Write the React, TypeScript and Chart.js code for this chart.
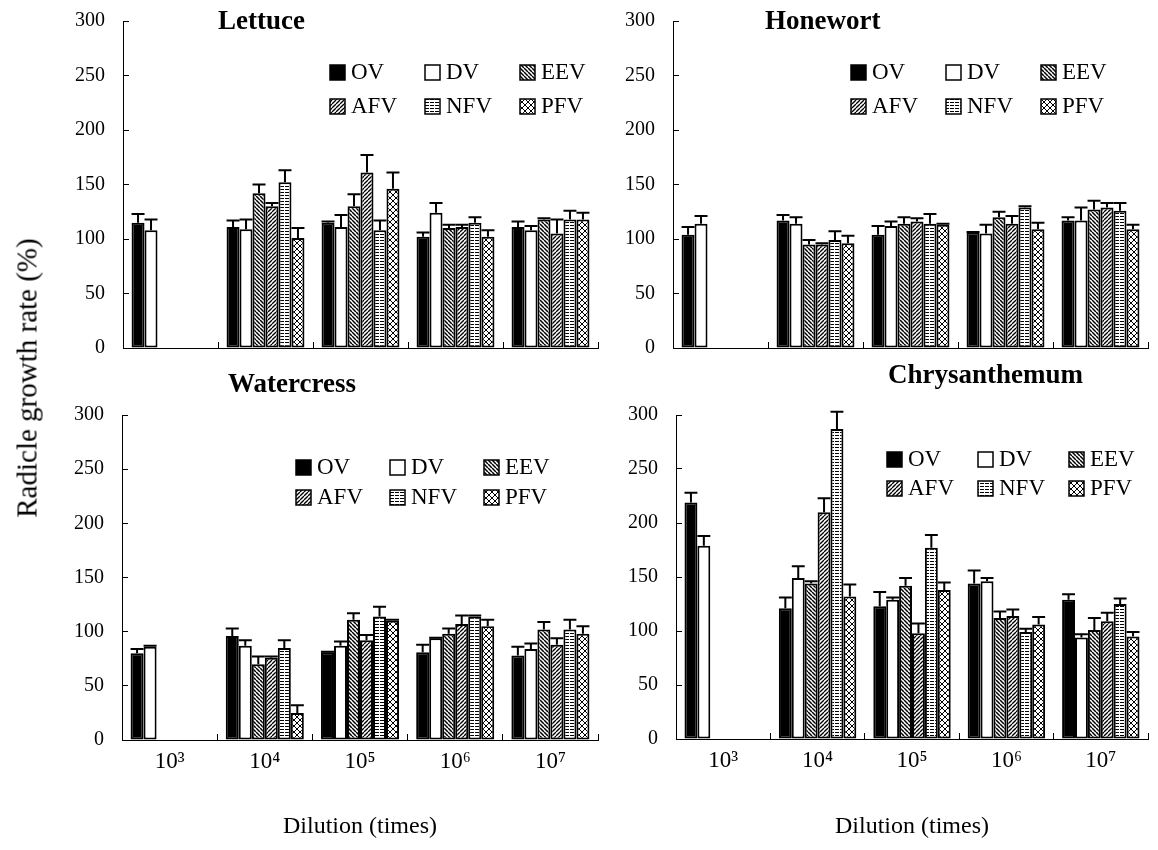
import React, { useEffect, useRef } from "react";
import { Chart, registerables } from "chart.js";
Chart.register(...registerables);

const SERIF = '"Liberation Serif", "Times New Roman", Times, serif';

const categories = ["10³", "10⁴", "10⁵", "10⁶", "10⁷"];
const seriesNames = ["OV", "DV", "EEV", "AFV", "NFV", "PFV"];

// Lettuce
const lettuceOV = [115, 111, 115, 102, 111];
const lettuceDV = [108, 109, 111, 124, 108];
const lettuceEEV = [null, 142, 130, 110, 118];
const lettuceAFV = [null, 130, 161, 111, 105];
const lettuceNFV = [null, 152, 108, 115, 118];
const lettucePFV = [null, 101, 146, 102, 118];
const lettuceOVErr = [8, 6, 1, 4, 5];
const lettuceDVErr = [10, 9, 11, 9, 4];
const lettuceEEVErr = [0, 8, 11, 3, 1];
const lettuceAFVErr = [0, 3, 16, 2, 13];
const lettuceNFVErr = [0, 11, 9, 5, 8];
const lettucePFVErr = [0, 9, 15, 6, 6];

// Honewort
const honewortOV = [104, 117, 104, 106, 117];
const honewortDV = [114, 114, 112, 105, 117];
const honewortEEV = [null, 95, 114, 120, 127];
const honewortAFV = [null, 95, 116, 114, 129];
const honewortNFV = [null, 99, 114, 129, 126];
const honewortPFV = [null, 96, 113, 109, 109];
const honewortOVErr = [7, 5, 8, 0.5, 3];
const honewortDVErr = [7, 6, 4, 8, 12];
const honewortEEVErr = [0, 4, 6, 5, 8];
const honewortAFVErr = [0, 1, 3, 7, 4];
const honewortNFVErr = [0, 8, 9, 1, 7];
const honewortPFVErr = [0, 7, 1, 6, 4];

// Watercress
const watercressOV = [80, 96, 81, 81, 78];
const watercressDV = [86, 87, 87, 94, 84];
const watercressEEV = [null, 70, 111, 98, 102];
const watercressAFV = [null, 76, 92, 107, 88];
const watercressNFV = [null, 85, 114, 114, 102];
const watercressPFV = [null, 25, 110, 105, 98];
const watercressOVErr = [4, 7, 0.5, 7, 8];
const watercressDVErr = [1, 5, 4, 0.5, 5];
const watercressEEVErr = [0, 7, 6, 5, 7];
const watercressAFVErr = [0, 1, 5, 8, 6];
const watercressNFVErr = [0, 7, 9, 1, 9];
const watercressPFVErr = [0, 7, 1, 6, 7];

// Chrysanthemum
const chrysOV = [219, 121, 123, 144, 129];
const chrysDV = [179, 149, 129, 146, 94];
const chrysEEV = [null, 144, 142, 112, 101];
const chrysAFV = [null, 210, 98, 114, 109];
const chrysNFV = [null, 287, 177, 99, 125];
const chrysPFV = [null, 132, 138, 106, 95];
const chrysOVErr = [9, 10, 13, 12, 5];
const chrysDVErr = [9, 11, 2, 3, 3];
const chrysEEVErr = [0, 2, 7, 6, 11];
const chrysAFVErr = [0, 13, 9, 6, 8];
const chrysNFVErr = [0, 16, 12, 3, 5];
const chrysPFVErr = [0, 11, 7, 7, 4];

const Y_MIN = 0;
const Y_MAX = 300;
const Y_STEP = 50;

function makeFill(kind: string): any {
  if (kind === "OV") return "#000";
  if (kind === "DV") return "#fff";
  const c = document.createElement("canvas");
  const ctx = c.getContext("2d") as CanvasRenderingContext2D;
  if (kind === "EEV") {
    c.width = 4; c.height = 4;
    ctx.fillStyle = "#fff"; ctx.fillRect(0, 0, 4, 4);
    ctx.strokeStyle = "#000"; ctx.lineWidth = 1.5;
    for (const k of [-4, 0, 4]) { ctx.beginPath(); ctx.moveTo(k, 0); ctx.lineTo(k + 4, 4); ctx.stroke(); }
  } else if (kind === "AFV") {
    c.width = 4; c.height = 4;
    ctx.fillStyle = "#fff"; ctx.fillRect(0, 0, 4, 4);
    ctx.strokeStyle = "#000"; ctx.lineWidth = 1.3;
    for (const k of [-4, 0, 4]) { ctx.beginPath(); ctx.moveTo(k, 4); ctx.lineTo(k + 4, 0); ctx.stroke(); }
  } else if (kind === "NFV") {
    c.width = 5; c.height = 3;
    ctx.fillStyle = "#fff"; ctx.fillRect(0, 0, 5, 3);
    ctx.fillStyle = "#000"; ctx.fillRect(0, 0, 4, 1);
  } else {
    c.width = 6; c.height = 6;
    ctx.fillStyle = "#fff"; ctx.fillRect(0, 0, 6, 6);
    ctx.strokeStyle = "#000"; ctx.lineWidth = 1;
    for (const k of [-6, 0, 6]) {
      ctx.beginPath(); ctx.moveTo(k, 0); ctx.lineTo(k + 6, 6); ctx.stroke();
      ctx.beginPath(); ctx.moveTo(k, 6); ctx.lineTo(k + 6, 0); ctx.stroke();
    }
  }
  const ctx2 = document.createElement("canvas").getContext("2d") as CanvasRenderingContext2D;
  return ctx2.createPattern(c, "repeat");
}

const errorBarsPlugin = {
  id: "errorBars",
  afterDatasetsDraw(chart: any) {
    const ctx = chart.ctx;
    const yScale = chart.scales.y;
    chart.data.datasets.forEach((ds: any, i: number) => {
      const meta = chart.getDatasetMeta(i);
      meta.data.forEach((bar: any, j: number) => {
        const v = ds.data[j];
        const e = ds.errors ? ds.errors[j] : 0;
        if (v == null || !e) return;
        const { x, y, width } = bar.getProps(["x", "y", "width"], true);
        const yt = yScale.getPixelForValue(v + e);
        ctx.save();
        ctx.strokeStyle = "#000";
        ctx.lineWidth = 2;
        ctx.beginPath();
        ctx.moveTo(x, y);
        ctx.lineTo(x, yt);
        ctx.moveTo(x - width / 2, yt);
        ctx.lineTo(x + width / 2, yt);
        ctx.stroke();
        ctx.restore();
      });
    });
  },
};

const gridLegendPlugin = {
  id: "gridLegend",
  afterDraw(chart: any, _args: any, opts: any) {
    const ctx = chart.ctx;
    chart.data.datasets.forEach((ds: any, i: number) => {
      const col = i % 3;
      const row = Math.floor(i / 3);
      const x = opts.x + col * opts.dx;
      const y = opts.y + row * opts.dy;
      ctx.save();
      ctx.fillStyle = ds.backgroundColor;
      ctx.fillRect(x, y - 7, 15, 15);
      ctx.strokeStyle = "#000";
      ctx.lineWidth = 1.5;
      ctx.strokeRect(x, y - 7, 15, 15);
      ctx.fillStyle = "#000";
      ctx.font = `23px ${SERIF}`;
      ctx.textBaseline = "middle";
      ctx.textAlign = "left";
      ctx.fillText(ds.label, x + 21, y + 1);
      ctx.restore();
    });
  },
};

type PanelProps = {
  left: number; top: number; width: number; height: number;
  padTop: number; padRight: number; yWidth: number; xHeight: number;
  showX: boolean; series: (number | null)[][]; errors: number[][];
  legend: { x: number; y: number; dx: number; dy: number };
};

function Panel(p: PanelProps) {
  const ref = useRef<HTMLCanvasElement | null>(null);
  useEffect(() => {
    const canvas = ref.current;
    if (!canvas) return;
    const datasets = seriesNames.map((name, i) => ({
      label: name,
      data: p.series[i],
      errors: p.errors[i],
      backgroundColor: makeFill(name),
      borderColor: "#000",
      borderWidth: 2,
      borderSkipped: false,
      categoryPercentage: 0.82,
      barPercentage: 1.0,
    }));
    const chart = new Chart(canvas, {
      type: "bar",
      data: { labels: categories, datasets: datasets as any },
      options: {
        animation: false,
        responsive: false,
        devicePixelRatio: 1,
        layout: { padding: { top: p.padTop, right: p.padRight, left: 0, bottom: 0 } },
        plugins: {
          legend: { display: false },
          tooltip: { enabled: false },
          gridLegend: p.legend,
        } as any,
        scales: {
          x: {
            offset: true,
            grid: { offset: true, drawOnChartArea: false, drawTicks: true, tickLength: -6, color: "#000", lineWidth: 1 },
            border: { display: true, color: "#000", width: 1 },
            ticks: {
              display: p.showX,
              color: "#000",
              font: { family: SERIF, size: 23 },
              padding: 14,
              maxRotation: 0,
              autoSkip: false,
            },
            title: {
              display: p.showX,
              text: "Dilution (times)",
              color: "#000",
              font: { family: SERIF, size: 24 },
              padding: { top: 0, bottom: 9 },
            },
            afterFit: (s: any) => {
              s.height = p.xHeight;
              s.paddingLeft = 0;
              s.paddingRight = 0;
            },
          },
          y: {
            min: Y_MIN,
            max: Y_MAX,
            grid: { drawOnChartArea: false, drawTicks: true, tickLength: -6, color: "#000", lineWidth: 1 },
            border: { display: true, color: "#000", width: 1 },
            ticks: {
              stepSize: Y_STEP,
              color: "#000",
              font: { family: SERIF, size: 20 },
              padding: 24,
            },
            afterFit: (s: any) => {
              s.width = p.yWidth;
              s.paddingTop = 0;
              s.paddingBottom = 0;
            },
          },
        },
      } as any,
      plugins: [errorBarsPlugin, gridLegendPlugin],
    });
    return () => chart.destroy();
  }, []);
  return (
    <canvas
      ref={ref}
      width={p.width}
      height={p.height}
      style={{ position: "absolute", left: p.left, top: p.top, width: p.width, height: p.height }}
    />
  );
}

const titleStyle = (left: number, top: number): React.CSSProperties => ({
  position: "absolute",
  left,
  top,
  fontFamily: SERIF,
  fontWeight: "bold",
  fontSize: 27,
  lineHeight: "30px",
  whiteSpace: "nowrap",
  color: "#000",
});

export default function App() {
  useEffect(() => {
    document.body.style.margin = "0";
  }, []);
  return (
    <div style={{ position: "relative", width: 1158, height: 850, background: "#fff", overflow: "hidden" }}>
      <Panel
        left={0} top={0} width={600} height={360}
        padTop={21} padRight={2} yWidth={123} xHeight={12} showX={false}
        series={[lettuceOV, lettuceDV, lettuceEEV, lettuceAFV, lettuceNFV, lettucePFV]}
        errors={[lettuceOVErr, lettuceDVErr, lettuceEEVErr, lettuceAFVErr, lettuceNFVErr, lettucePFVErr]}
        legend={{ x: 330, y: 72, dx: 95, dy: 34 }}
      />
      <Panel
        left={600} top={0} width={558} height={360}
        padTop={21} padRight={10} yWidth={73} xHeight={12} showX={false}
        series={[honewortOV, honewortDV, honewortEEV, honewortAFV, honewortNFV, honewortPFV]}
        errors={[honewortOVErr, honewortDVErr, honewortEEVErr, honewortAFVErr, honewortNFVErr, honewortPFVErr]}
        legend={{ x: 251, y: 72, dx: 95, dy: 34 }}
      />
      <Panel
        left={0} top={360} width={600} height={490}
        padTop={55} padRight={2} yWidth={122} xHeight={110} showX={true}
        series={[watercressOV, watercressDV, watercressEEV, watercressAFV, watercressNFV, watercressPFV]}
        errors={[watercressOVErr, watercressDVErr, watercressEEVErr, watercressAFVErr, watercressNFVErr, watercressPFVErr]}
        legend={{ x: 296, y: 107, dx: 94, dy: 30 }}
      />
      <Panel
        left={600} top={360} width={558} height={490}
        padTop={55} padRight={10} yWidth={76} xHeight={111} showX={true}
        series={[chrysOV, chrysDV, chrysEEV, chrysAFV, chrysNFV, chrysPFV]}
        errors={[chrysOVErr, chrysDVErr, chrysEEVErr, chrysAFVErr, chrysNFVErr, chrysPFVErr]}
        legend={{ x: 287, y: 99, dx: 91, dy: 29 }}
      />
      <div style={titleStyle(218, 5)}>Lettuce</div>
      <div style={titleStyle(765, 5)}>Honewort</div>
      <div style={titleStyle(228, 368)}>Watercress</div>
      <div style={titleStyle(888, 359)}>Chrysanthemum</div>
      <div
        style={{
          position: "absolute",
          left: 27,
          top: 378,
          transform: "translate(-50%, -50%) rotate(-90deg)",
          fontFamily: SERIF,
          fontSize: 29,
          whiteSpace: "nowrap",
          color: "#000",
        }}
      >
        Radicle growth rate (%)
      </div>
    </div>
  );
}
